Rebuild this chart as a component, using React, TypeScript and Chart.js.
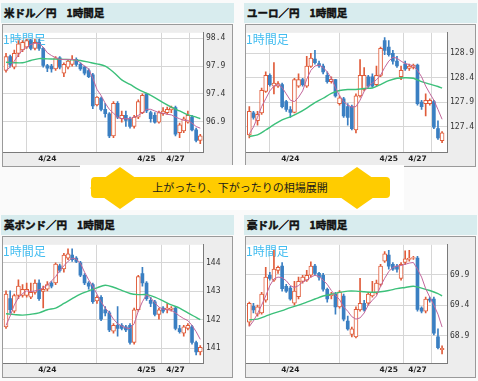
import React, { useEffect, useRef } from 'react';
import { Chart, registerables } from 'chart.js';
Chart.register(...registerables);

// ---------- shared axis data ----------
const xTickPos = [0, 10, 34, 41];
const xTickLabels = ['', '4/24', '4/25', '4/27'];
const maLongIdx = [0, 2, 4, 6, 8, 10, 12, 14, 16, 18, 20, 22, 24, 26, 28, 30, 32, 34, 36, 38, 40, 42, 44, 46, 47];

// ---------- 米ドル／円 ----------
const usdOpen = [97.82, 98.07, 97.88, 98.13, 98.19, 98.24, 98.36, 98.22, 98.33, 98.22, 97.91, 97.90, 97.85, 98.05, 97.77, 97.88, 97.93, 98.02, 97.93, 97.88, 97.82, 97.74, 97.20, 97.32, 97.12, 97.04, 96.64, 97.23, 96.95, 97.01, 96.95, 96.81, 96.98, 97.06, 97.40, 97.06, 97.01, 96.89, 97.04, 97.06, 97.11, 97.15, 96.70, 96.73, 96.89, 96.98, 96.75, 96.56];
const usdHigh = [98.13, 98.10, 98.19, 98.36, 98.36, 98.38, 98.38, 98.38, 98.38, 98.24, 97.93, 97.93, 98.07, 98.07, 97.96, 98.02, 98.09, 98.05, 97.96, 97.90, 97.85, 97.77, 97.35, 97.34, 97.23, 97.06, 97.26, 97.26, 97.09, 97.09, 96.98, 97.01, 97.29, 97.40, 97.41, 97.09, 97.06, 97.09, 97.15, 97.16, 97.18, 97.18, 96.87, 96.98, 97.09, 97.01, 96.78, 96.67];
const usdLow = [97.79, 97.88, 97.85, 98.07, 98.16, 98.22, 98.19, 98.19, 98.18, 97.88, 97.80, 97.79, 97.82, 97.85, 97.71, 97.85, 97.90, 97.90, 97.82, 97.74, 97.69, 97.13, 97.18, 97.09, 96.98, 96.61, 96.61, 96.95, 96.89, 96.81, 96.78, 96.78, 96.95, 97.04, 97.06, 96.89, 96.87, 96.87, 97.01, 97.03, 97.06, 96.64, 96.61, 96.70, 96.87, 96.73, 96.53, 96.50];
const usdClose = [98.07, 97.93, 98.13, 98.30, 98.33, 98.36, 98.22, 98.33, 98.22, 97.91, 97.86, 97.85, 98.05, 97.88, 97.93, 97.99, 98.02, 97.93, 97.85, 97.77, 97.71, 97.18, 97.34, 97.12, 97.04, 96.64, 97.23, 96.98, 97.01, 96.92, 96.81, 96.98, 97.26, 97.37, 97.09, 96.95, 96.89, 97.06, 97.09, 97.12, 97.15, 96.67, 96.84, 96.95, 97.01, 96.75, 96.56, 96.64];
const usdMaShort = [97.82, 97.88, 97.99, 98.10, 98.19, 98.24, 98.29, 98.31, 98.31, 98.24, 98.14, 98.09, 98.05, 98.02, 98.02, 98.02, 98.02, 98.01, 97.96, 97.90, 97.85, 97.68, 97.48, 97.37, 97.23, 97.12, 97.05, 96.98, 96.95, 96.95, 96.95, 96.98, 97.01, 97.06, 97.12, 97.12, 97.09, 97.06, 97.05, 97.03, 97.02, 96.98, 96.95, 96.92, 96.92, 96.87, 96.81, 96.78];
const usdMaLong = [97.97, 97.96, 97.96, 98.00, 98.035, 98.03, 98.025, 98.02, 98.015, 98.00, 97.97, 97.94, 97.90, 97.79, 97.65, 97.57, 97.48, 97.41, 97.33, 97.24, 97.16, 97.09, 97.02, 96.98, 96.95];
const usdTicks = [96.9, 97.4, 97.9, 98.4];

// ---------- ユーロ／円 ----------
const eurOpen = [127.23, 127.68, 127.52, 127.68, 128.12, 128.45, 128.23, 128.23, 128.26, 127.91, 127.75, 127.69, 128.23, 128.36, 128.23, 128.63, 128.78, 128.69, 128.64, 128.45, 128.32, 128.36, 127.87, 127.97, 127.81, 127.81, 127.33, 128.03, 128.16, 128.42, 128.42, 128.26, 128.45, 129.16, 129.03, 128.90, 128.74, 128.42, 128.68, 128.59, 128.61, 128.66, 127.90, 127.87, 127.87, 127.91, 127.36, 127.11];
const eurHigh = [127.81, 127.71, 127.71, 128.19, 128.52, 128.48, 128.71, 128.32, 128.29, 127.94, 127.81, 128.39, 128.48, 128.39, 128.84, 128.90, 128.96, 128.74, 128.68, 128.52, 128.42, 128.37, 128.03, 128.00, 127.87, 127.84, 128.07, 128.77, 128.61, 128.45, 128.48, 128.64, 129.03, 129.22, 129.16, 128.96, 128.84, 128.64, 128.74, 128.68, 128.68, 128.68, 127.94, 128.07, 127.97, 127.94, 127.52, 127.30];
const eurLow = [127.17, 127.55, 127.43, 127.65, 128.10, 128.23, 128.07, 128.20, 127.78, 127.71, 127.59, 127.68, 128.20, 128.23, 128.20, 128.61, 128.68, 128.61, 128.48, 128.29, 128.29, 128.00, 127.84, 127.59, 127.43, 127.33, 127.27, 128.00, 128.13, 128.20, 128.20, 128.23, 128.42, 128.87, 128.84, 128.68, 128.61, 128.36, 128.55, 128.55, 128.58, 127.84, 127.75, 127.62, 127.84, 127.36, 127.14, 127.07];
const eurClose = [127.71, 127.59, 127.65, 128.14, 128.45, 128.26, 128.29, 128.28, 127.81, 127.75, 127.69, 128.36, 128.36, 128.26, 128.64, 128.80, 128.71, 128.64, 128.52, 128.32, 128.37, 128.03, 127.99, 127.62, 127.59, 127.36, 128.03, 128.45, 128.45, 128.23, 128.23, 128.45, 129.00, 128.96, 128.87, 128.74, 128.64, 128.55, 128.58, 128.64, 128.66, 127.87, 127.81, 127.94, 127.94, 127.39, 127.17, 127.27];
const eurMaShort = [127.25, 127.39, 127.59, 127.81, 127.97, 128.13, 128.23, 128.26, 128.20, 128.07, 127.94, 127.91, 128.00, 128.13, 128.37, 128.55, 128.64, 128.66, 128.61, 128.52, 128.39, 128.20, 128.03, 127.91, 127.84, 127.80, 127.81, 127.94, 128.12, 128.23, 128.29, 128.36, 128.45, 128.61, 128.74, 128.82, 128.80, 128.74, 128.69, 128.67, 128.64, 128.55, 128.42, 128.23, 128.08, 127.94, 127.75, 127.55];
const eurMaLong = [127.20, 127.23, 127.33, 127.44, 127.54, 127.60, 127.68, 127.78, 127.89, 127.98, 128.08, 128.14, 128.16, 128.16, 128.18, 128.19, 128.26, 128.34, 128.39, 128.40, 128.39, 128.32, 128.27, 128.22, 128.19];
const eurTicks = [127.4, 127.9, 128.4, 128.9];

// ---------- 英ポンド／円 ----------
const gbpOpen = [141.75, 142.74, 142.30, 142.85, 142.85, 142.85, 142.79, 142.96, 143.29, 142.99, 143.07, 143.29, 143.29, 143.89, 143.78, 144.16, 144.27, 144.16, 144.00, 143.56, 143.29, 143.23, 142.66, 142.79, 142.35, 142.24, 141.60, 141.80, 141.80, 141.75, 141.80, 141.20, 142.35, 143.62, 143.29, 142.68, 142.63, 142.19, 142.41, 142.35, 142.36, 142.41, 141.69, 141.53, 141.69, 141.75, 141.20, 140.87];
const gbpHigh = [143.01, 143.01, 142.90, 143.40, 143.23, 143.29, 143.29, 143.40, 143.40, 143.18, 143.34, 143.34, 144.00, 143.95, 144.33, 144.49, 144.49, 144.22, 144.05, 143.62, 143.34, 143.29, 142.85, 142.85, 142.46, 142.30, 141.86, 142.46, 141.86, 141.80, 141.86, 142.41, 143.56, 143.84, 143.34, 142.79, 142.68, 142.41, 142.46, 142.57, 142.46, 142.46, 141.80, 141.80, 141.86, 141.80, 141.25, 141.09];
const gbpLow = [141.69, 142.24, 142.24, 142.74, 142.79, 142.79, 142.74, 142.90, 142.68, 142.41, 143.01, 143.12, 143.23, 143.67, 143.67, 144.11, 144.05, 144.00, 143.51, 143.23, 143.07, 142.57, 142.57, 141.97, 142.13, 141.58, 141.53, 141.42, 141.64, 141.58, 141.14, 141.14, 142.30, 143.18, 142.68, 142.46, 142.13, 142.02, 142.24, 142.24, 142.30, 141.64, 141.53, 141.42, 141.64, 141.14, 140.76, 140.76];
const gbpClose = [142.90, 142.35, 142.85, 143.18, 143.07, 143.07, 142.96, 143.29, 142.74, 143.07, 143.23, 143.18, 143.95, 143.73, 144.27, 144.31, 144.11, 144.05, 143.56, 143.29, 143.18, 142.63, 142.79, 142.02, 142.24, 141.64, 141.80, 141.69, 141.69, 141.64, 141.20, 142.35, 143.51, 143.29, 142.74, 142.57, 142.19, 142.35, 142.30, 142.41, 142.41, 141.69, 141.58, 141.75, 141.80, 141.20, 140.87, 141.03];
const gbpMaShort = [141.80, 142.13, 142.52, 142.77, 142.92, 143.01, 142.99, 143.01, 143.05, 143.12, 143.21, 143.36, 143.51, 143.73, 143.89, 144.05, 144.16, 144.13, 143.98, 143.67, 143.40, 143.18, 142.90, 142.63, 142.41, 142.24, 142.02, 141.86, 141.78, 141.71, 141.69, 141.86, 142.30, 142.63, 142.88, 142.77, 142.60, 142.44, 142.37, 142.35, 142.33, 142.24, 142.13, 142.04, 141.97, 141.80, 141.58, 141.31];
const gbpMaLong = [142.21, 142.18, 142.16, 142.19, 142.24, 142.35, 142.41, 142.57, 142.74, 142.90, 143.01, 143.12, 143.21, 143.14, 143.03, 142.92, 142.88, 142.88, 142.79, 142.66, 142.52, 142.41, 142.24, 142.08, 142.00];
const gbpTicks = [141, 142, 143, 144];

// ---------- 豪ドル／円 ----------
const audOpen = [69.12, 69.38, 69.25, 69.27, 69.48, 69.89, 69.81, 69.97, 70.04, 69.71, 69.68, 69.43, 69.54, 69.79, 69.81, 69.89, 70.04, 69.92, 69.89, 69.66, 69.555, 69.58, 69.37, 69.55, 69.14, 68.92, 68.88, 69.32, 69.43, 69.43, 69.55, 69.61, 69.74, 70.12, 70.22, 70.07, 70.04, 69.84, 70.10, 70.15, 70.17, 70.17, 69.35, 69.30, 69.50, 69.50, 68.88, 68.67];
const audHigh = [69.45, 69.43, 69.40, 69.61, 70.02, 69.94, 70.30, 70.04, 70.10, 69.74, 69.71, 69.79, 69.86, 69.89, 69.97, 70.11, 70.07, 69.94, 69.92, 69.68, 69.61, 69.61, 69.64, 69.58, 69.22, 69.04, 69.37, 69.84, 69.48, 69.61, 69.79, 69.81, 70.07, 70.28, 70.30, 70.10, 70.07, 70.10, 70.29, 70.30, 70.20, 70.20, 69.37, 69.53, 69.53, 69.53, 69.01, 68.73];
const audLow = [69.06, 69.27, 69.22, 69.25, 69.45, 69.81, 69.79, 69.92, 69.63, 69.61, 69.48, 69.40, 69.50, 69.76, 69.79, 69.86, 69.89, 69.81, 69.63, 69.45, 69.50, 69.25, 69.35, 69.14, 68.99, 68.88, 68.86, 69.30, 69.30, 69.40, 69.53, 69.58, 69.71, 70.10, 69.99, 69.97, 69.94, 69.81, 70.07, 70.12, 70.15, 69.30, 69.27, 69.27, 69.45, 68.91, 68.68, 68.60];
const audClose = [69.43, 69.32, 69.37, 69.58, 69.86, 69.84, 69.99, 70.02, 69.67, 69.63, 69.50, 69.63, 69.79, 69.86, 69.89, 70.04, 69.92, 69.86, 69.66, 69.50, 69.58, 69.37, 69.62, 69.17, 69.01, 69.01, 69.33, 69.43, 69.32, 69.58, 69.61, 69.76, 70.04, 70.24, 70.04, 69.99, 69.99, 70.07, 70.16, 70.17, 70.18, 69.33, 69.30, 69.50, 69.48, 68.94, 68.70, 68.69];
const audMaShort = [69.05, 69.14, 69.26, 69.40, 69.55, 69.72, 69.83, 69.86, 69.85, 69.80, 69.72, 69.69, 69.72, 69.78, 69.81, 69.86, 69.89, 69.87, 69.81, 69.74, 69.64, 69.56, 69.49, 69.37, 69.30, 69.21, 69.17, 69.19, 69.27, 69.40, 69.48, 69.55, 69.71, 69.84, 69.95, 70.02, 70.04, 70.05, 70.07, 70.09, 70.10, 69.99, 69.86, 69.67, 69.53, 69.40, 69.25, 69.04];
const audMaLong = [69.16, 69.17, 69.22, 69.27, 69.31, 69.36, 69.40, 69.45, 69.50, 69.55, 69.58, 69.61, 69.63, 69.63, 69.62, 69.61, 69.62, 69.64, 69.67, 69.69, 69.71, 69.68, 69.64, 69.59, 69.55];
const audTicks = [68.9, 69.4, 69.9];

const UP = '#e05c3a';
const DOWN = '#3a7fc2';
const PINK = '#c2679c';
const GREEN = '#3cc07a';
const JP = '"Noto Sans CJK JP", "Noto Sans", sans-serif';

const panelBg = {
  id: 'panelBg',
  beforeDraw(chart: any) {
    const { ctx, chartArea: a, width, height } = chart;
    ctx.save();
    ctx.fillStyle = '#ededed';
    ctx.fillRect(0, 0, width, height);
    ctx.fillStyle = '#ffffff';
    ctx.fillRect(a.left, a.top, a.right - a.left, a.bottom - a.top);
    ctx.restore();
  },
  beforeDatasetsDraw(chart: any) {
    const { ctx, chartArea: a } = chart;
    ctx.save();
    ctx.fillStyle = '#43bdf0';
    ctx.font = '12px ' + JP;
    ctx.textBaseline = 'top';
    ctx.fillText('1時間足', a.left, a.top + 1);
    ctx.restore();
  },
};

type PanelProps = {
  title: string;
  open: number[]; high: number[]; low: number[]; close: number[];
  maShort: number[]; maLong: number[];
  yMin: number; yMax: number; yTicks: number[]; yDigits: number;
  xMin: number; xMax: number; yAxisW: number;
  left: number; headerTop: number; boxTop: number; boxH: number;
};

function CandlePanel(p: PanelProps) {
  const ref = useRef<HTMLCanvasElement>(null);
  const boxW = 231;
  const cw = boxW - 2;
  const ch = p.boxH - 2;
  useEffect(() => {
    const up: any[] = [], down: any[] = [], upW: any[] = [], downW: any[] = [];
    p.open.forEach((o, i) => {
      const c = p.close[i];
      const body = { x: i, y: [o, c] };
      const wick = { x: i, y: [p.low[i], p.high[i]] };
      if (c >= o) { up.push(body); upW.push(wick); } else { down.push(body); downW.push(wick); }
    });
    const tickFont = { family: '"DejaVu Sans Mono", monospace', size: 8 };
    const chart = new Chart(ref.current as HTMLCanvasElement, {
      type: 'bar',
      data: {
        datasets: [
          { type: 'line', data: p.maShort.map((v, i) => ({ x: i, y: v })), borderColor: PINK, borderWidth: 1, pointRadius: 0, tension: 0, order: 0 } as any,
          { type: 'line', data: maLongIdx.map((x, k) => ({ x, y: p.maLong[k] })), borderColor: GREEN, borderWidth: 1.4, pointRadius: 0, tension: 0.3, order: 1 } as any,
          { data: up, backgroundColor: '#ffffff', borderColor: UP, borderWidth: 1, borderSkipped: false, barThickness: 4, grouped: false, order: 2 } as any,
          { data: down, backgroundColor: DOWN, borderWidth: 0, borderSkipped: false, barThickness: 3, grouped: false, order: 2 } as any,
          { data: upW, backgroundColor: UP, borderWidth: 0, barThickness: 1, grouped: false, order: 3 } as any,
          { data: downW, backgroundColor: DOWN, borderWidth: 0, barThickness: 1, grouped: false, order: 3 } as any,
        ],
      },
      options: {
        animation: false,
        responsive: false,
        devicePixelRatio: 1,
        layout: { padding: 0, autoPadding: false } as any,
        plugins: { legend: { display: false }, tooltip: { enabled: false } },
        scales: {
          x: {
            type: 'linear', min: p.xMin, max: p.xMax, offset: false,
            afterBuildTicks: (s: any) => { s.ticks = xTickPos.map((v) => ({ value: v })); },
            afterFit: (s: any) => { s.height = 14; },
            grid: { color: '#d6d6d6', drawTicks: false },
            border: { color: '#7a7a7a' },
            ticks: {
              autoSkip: false, maxRotation: 0, padding: 3, color: '#222',
              font: { family: '"DejaVu Sans", sans-serif', size: 7.5, weight: 'bold' },
              callback: (v: any) => { const k = xTickPos.indexOf(Number(v)); return k >= 0 ? xTickLabels[k] : ''; },
            },
          },
          y: {
            position: 'right', min: p.yMin, max: p.yMax,
            afterBuildTicks: (s: any) => { s.ticks = p.yTicks.map((v) => ({ value: v })); },
            afterFit: (s: any) => { s.width = p.yAxisW; },
            grid: { color: '#d6d6d6', drawTicks: false },
            border: { color: '#7a7a7a' },
            ticks: { padding: 3, color: '#333', font: tickFont, callback: (v: any) => Number(v).toFixed(p.yDigits) },
          },
        } as any,
      },
      plugins: [panelBg],
    } as any);
    return () => chart.destroy();
  }, []);
  return (
    <>
      <div style={{ position: 'absolute', left: p.left - 1, top: p.headerTop, width: 233, height: 20, background: '#d8ecee', fontFamily: JP, fontWeight: 'bold', fontSize: 10.5, color: '#111', lineHeight: '20px', whiteSpace: 'nowrap', WebkitTextStroke: '0.5px #111' } as any}>
        <span style={{ marginLeft: 3 }}>{p.title}</span>
        <span style={{ marginLeft: 10 }}>1時間足</span>
      </div>
      <div style={{ position: 'absolute', left: p.left, top: p.boxTop, width: cw, height: ch, border: '1px solid #9a9a9a', background: '#fff' }}>
        <canvas ref={ref} width={cw} height={ch} style={{ display: 'block', width: cw, height: ch }} />
      </div>
    </>
  );
}

function Banner() {
  return (
    <div style={{ position: 'absolute', left: 80, top: 165, width: 324, height: 45, background: '#ffffff' }}>
      <svg width={324} height={45} style={{ position: 'absolute', left: 0, top: 0 }}>
        <rect x={11} y={12} width={299} height={21} rx={4} ry={4} fill="#ffcc00" />
        <polygon points="40,2 70,23 40,44 10,23" fill="#ffcc00" />
        <polygon points="277,2 307,23 277,44 247,23" fill="#ffcc00" />
      </svg>
      <div style={{ position: 'absolute', left: 0, top: 12, width: 320, height: 21, lineHeight: '21px', textAlign: 'center', fontFamily: JP, fontSize: 11, color: '#1a1a1a' }}>
        上がったり、下がったりの相場展開
      </div>
    </div>
  );
}

export default function App() {
  return (
    <div style={{ position: 'absolute', left: 0, top: 0, width: 478, height: 381, background: '#fafafa', overflow: 'hidden' }}>
      <CandlePanel title="米ドル／円" open={usdOpen} high={usdHigh} low={usdLow} close={usdClose} maShort={usdMaShort} maLong={usdMaLong}
        yMin={96.35} yMax={98.5} yTicks={usdTicks} yDigits={1} xMin={-0.73} xMax={47.66} yAxisW={29}
        left={2} headerTop={3} boxTop={24} boxH={143} />
      <CandlePanel title="ユーロ／円" open={eurOpen} high={eurHigh} low={eurLow} close={eurClose} maShort={eurMaShort} maLong={eurMaLong}
        yMin={126.88} yMax={129.32} yTicks={eurTicks} yDigits={1} xMin={-0.81} xMax={48.2} yAxisW={28}
        left={245} headerTop={3} boxTop={24} boxH={143} />
      <CandlePanel title="英ポンド／円" open={gbpOpen} high={gbpHigh} low={gbpLow} close={gbpClose} maShort={gbpMaShort} maLong={gbpMaLong}
        yMin={140.48} yMax={144.63} yTicks={gbpTicks} yDigits={0} xMin={-0.73} xMax={47.66} yAxisW={29}
        left={2} headerTop={215} boxTop={236} boxH={142} />
      <CandlePanel title="豪ドル／円" open={audOpen} high={audHigh} low={audLow} close={audClose} maShort={audMaShort} maLong={audMaLong}
        yMin={68.45} yMax={70.39} yTicks={audTicks} yDigits={1} xMin={-0.81} xMax={48.2} yAxisW={28}
        left={245} headerTop={215} boxTop={236} boxH={142} />
      <Banner />
    </div>
  );
}
